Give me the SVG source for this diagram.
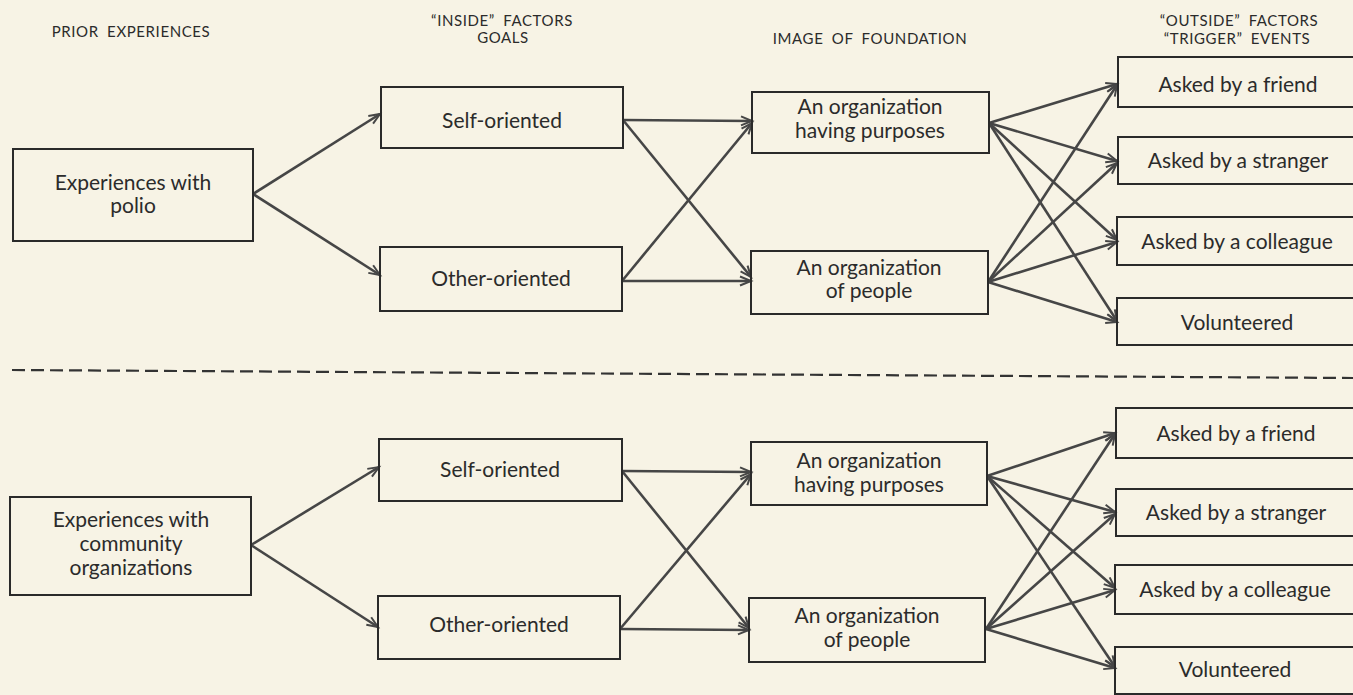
<svg xmlns="http://www.w3.org/2000/svg" width="1353" height="695" viewBox="0 0 1353 695">
<style>
.bg{fill:#f7f3e5}
.box{fill:none;stroke:#2a2a2a;stroke-width:2}
.t{font-family:Lato,"Open Sans",sans-serif;font-size:21px;fill:#2b2b2b;text-anchor:middle}
.h{font-family:Lato,"Open Sans",sans-serif;font-size:15px;fill:#2b2b2b;text-anchor:middle;letter-spacing:0.6px;word-spacing:4px}
.c{fill:none;stroke:#464646;stroke-width:2.6;marker-end:url(#ah)}
.dash{stroke:#333;stroke-width:2.2;stroke-dasharray:13 6;fill:none}
</style>
<defs>
<marker id="ah" markerUnits="userSpaceOnUse" markerWidth="16" markerHeight="12" viewBox="-12 -6 14 12" refX="0" refY="0" orient="auto">
<path d="M-11,-4.5 L0,0 L-11,4.5" fill="none" stroke="#464646" stroke-width="2"/>
</marker>
</defs>
<rect class="bg" x="0" y="0" width="1353" height="695"/>

<g id="headers">
<text class="h" x="131" y="37">PRIOR EXPERIENCES</text>
<text class="h" x="502" y="26">“INSIDE” FACTORS</text>
<text class="h" x="503" y="43">GOALS</text>
<text class="h" x="870" y="44">IMAGE OF FOUNDATION</text>
<text class="h" x="1239" y="26">“OUTSIDE” FACTORS</text>
<text class="h" x="1237" y="44">“TRIGGER” EVENTS</text>
</g>

<g id="separator">
<line class="dash" x1="12" y1="370" x2="1353" y2="378"/>
</g>

<g id="connectors">
<!-- top -->
<line class="c" x1="253" y1="194" x2="380" y2="114"/>
<line class="c" x1="253" y1="194" x2="380" y2="275"/>
<line class="c" x1="623" y1="120" x2="752" y2="121"/>
<line class="c" x1="623" y1="120" x2="751" y2="277"/>
<line class="c" x1="622" y1="281" x2="751" y2="281"/>
<line class="c" x1="622" y1="281" x2="752" y2="123"/>
<line class="c" x1="989" y1="123" x2="1117" y2="84"/>
<line class="c" x1="989" y1="123" x2="1117" y2="161"/>
<line class="c" x1="989" y1="123" x2="1117" y2="240"/>
<line class="c" x1="989" y1="123" x2="1117" y2="321"/>
<line class="c" x1="988" y1="282" x2="1117" y2="85"/>
<line class="c" x1="988" y1="282" x2="1117" y2="163"/>
<line class="c" x1="988" y1="282" x2="1117" y2="242"/>
<line class="c" x1="988" y1="282" x2="1117" y2="322"/>
<!-- bottom -->
<line class="c" x1="251" y1="545" x2="379" y2="467"/>
<line class="c" x1="251" y1="545" x2="378" y2="627"/>
<line class="c" x1="622" y1="471" x2="751" y2="472"/>
<line class="c" x1="622" y1="471" x2="749" y2="628"/>
<line class="c" x1="620" y1="629" x2="749" y2="630"/>
<line class="c" x1="620" y1="629" x2="751" y2="474"/>
<line class="c" x1="987" y1="476" x2="1115" y2="433"/>
<line class="c" x1="987" y1="476" x2="1115" y2="512"/>
<line class="c" x1="987" y1="476" x2="1115" y2="588"/>
<line class="c" x1="987" y1="476" x2="1115" y2="667"/>
<line class="c" x1="986" y1="629" x2="1115" y2="434"/>
<line class="c" x1="986" y1="629" x2="1115" y2="514"/>
<line class="c" x1="986" y1="629" x2="1115" y2="590"/>
<line class="c" x1="986" y1="629" x2="1115" y2="668"/>
</g>

<!-- top half nodes -->
<g id="polio">
<rect class="box" x="13" y="149" width="240" height="92"/>
<text class="t" x="133" y="190">Experiences with</text>
<text class="t" x="133" y="213">polio</text>
</g>
<g id="self1">
<rect class="box" x="381" y="87" width="242" height="61"/>
<text class="t" x="502" y="128">Self-oriented</text>
</g>
<g id="other1">
<rect class="box" x="380" y="247" width="242" height="64"/>
<text class="t" x="501" y="286">Other-oriented</text>
</g>
<g id="purposes1">
<rect class="box" x="752" y="92" width="237" height="61"/>
<text class="t" x="870" y="114">An organization</text>
<text class="t" x="870" y="138">having purposes</text>
</g>
<g id="people1">
<rect class="box" x="751" y="251" width="237" height="63"/>
<text class="t" x="869" y="275">An organization</text>
<text class="t" x="869" y="298">of people</text>
</g>
<g id="friend1">
<rect class="box" x="1118" y="57" width="245" height="50"/>
<text class="t" x="1238" y="92">Asked by a friend</text>
</g>
<g id="stranger1">
<rect class="box" x="1118" y="137" width="245" height="47"/>
<text class="t" x="1238" y="168">Asked by a stranger</text>
</g>
<g id="colleague1">
<rect class="box" x="1117" y="217" width="246" height="48"/>
<text class="t" x="1237" y="249">Asked by a colleague</text>
</g>
<g id="volunteered1">
<rect class="box" x="1117" y="298" width="246" height="47"/>
<text class="t" x="1237" y="330">Volunteered</text>
</g>

<!-- bottom half nodes -->
<g id="community">
<rect class="box" x="10" y="497" width="241" height="98"/>
<text class="t" x="131" y="527">Experiences with</text>
<text class="t" x="131" y="551">community</text>
<text class="t" x="131" y="575">organizations</text>
</g>
<g id="self2">
<rect class="box" x="379" y="439" width="243" height="62"/>
<text class="t" x="500" y="477">Self-oriented</text>
</g>
<g id="other2">
<rect class="box" x="378" y="596" width="242" height="63"/>
<text class="t" x="499" y="632">Other-oriented</text>
</g>
<g id="purposes2">
<rect class="box" x="751" y="442" width="236" height="63"/>
<text class="t" x="869" y="468">An organization</text>
<text class="t" x="869" y="492">having purposes</text>
</g>
<g id="people2">
<rect class="box" x="749" y="598" width="236" height="64"/>
<text class="t" x="867" y="623">An organization</text>
<text class="t" x="867" y="647">of people</text>
</g>
<g id="friend2">
<rect class="box" x="1116" y="408" width="247" height="50"/>
<text class="t" x="1236" y="441">Asked by a friend</text>
</g>
<g id="stranger2">
<rect class="box" x="1116" y="489" width="247" height="47"/>
<text class="t" x="1236" y="520">Asked by a stranger</text>
</g>
<g id="colleague2">
<rect class="box" x="1115" y="565" width="248" height="49"/>
<text class="t" x="1235" y="597">Asked by a colleague</text>
</g>
<g id="volunteered2">
<rect class="box" x="1115" y="647" width="248" height="47"/>
<text class="t" x="1235" y="677">Volunteered</text>
</g>
</svg>
